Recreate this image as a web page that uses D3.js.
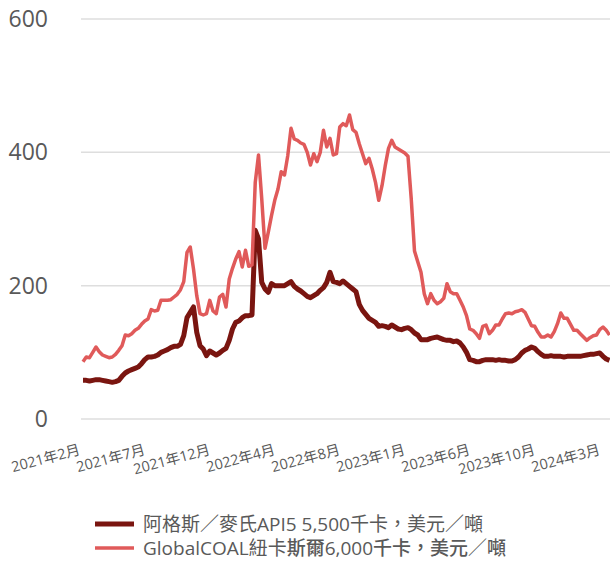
<!DOCTYPE html>
<html lang="zh-Hant">
<head>
<meta charset="utf-8">
<script src="https://cdn.jsdelivr.net/npm/d3@7"></script>
<style>
  html, body { margin: 0; padding: 0; background: #fff; }
  svg { display: block; }
  text { font-family: "Open Sans", "Noto Sans CJK TC", sans-serif; fill: #595959; }
</style>
</head>
<body>
<svg id="chart" width="610" height="565" lang="zh-Hant"></svg>
<script>
// Weekly prices, US$/tonne
const argusApi5 = [
  58, 58, 57, 58, 59, 59, 58, 57, 56, 55, 56, 58, 64, 69, 72, 74, 76, 78, 83, 89,
  93, 93, 94, 96, 100, 102, 104, 107, 109, 109, 112, 125, 152, 160, 168, 130, 110, 105, 95, 102,
  99, 96, 99, 103, 106, 118, 135, 145, 147, 152, 155, 155, 156, 283, 270, 205, 195, 190, 203, 200,
  200, 200, 200, 203, 206, 199, 195, 192, 188, 184, 182, 185, 188, 193, 197, 205, 220, 206, 205, 203,
  207, 203, 199, 195, 191, 172, 163, 157, 151, 148, 145, 139, 140, 139, 137, 141, 138, 135, 134, 136,
  137, 134, 129, 126, 119, 119, 119, 121, 122, 123, 121, 119, 118, 118, 116, 117, 114, 108, 100, 89,
  88, 86, 86, 88, 89, 89, 89, 88, 89, 88, 88, 87, 87, 89, 93, 99, 103, 105, 108, 106,
  101, 97, 94, 94, 95, 94, 94, 94, 93, 94, 94, 94, 94, 94, 95, 96, 97, 97, 98, 99,
  94, 90, 88
];
const globalCoalNewcastle = [
  86, 93, 92, 100, 108, 101, 96, 94, 92, 93, 97, 103, 110, 126, 125, 128, 133, 136, 142, 147,
  150, 164, 162, 163, 178, 178, 178, 179, 183, 187, 194, 206, 250, 258, 225, 185, 158, 156, 158, 178,
  162, 158, 183, 187, 168, 210, 226, 240, 251, 228, 253, 229, 231, 355, 396, 330, 256, 280, 305, 328,
  345, 371, 366, 395, 436, 420, 418, 414, 412, 400, 381, 398, 386, 400, 433, 408, 421, 396, 398, 438,
  443, 440, 456, 434, 430, 413, 398, 383, 391, 375, 355, 328, 350, 380, 406, 418, 408, 405, 402, 399,
  394, 330, 252, 236, 220, 188, 173, 188, 178, 173, 176, 181, 203, 191, 188, 188, 178, 168, 155, 135,
  133, 128, 121, 139, 141, 128, 133, 141, 141, 150, 158, 159, 158, 161, 162, 164, 160, 150, 140, 139,
  130, 123, 123, 126, 123, 131, 143, 159, 151, 151, 142, 133, 133, 128, 123, 118, 122, 125, 126, 134,
  138, 133, 126
];
// Axis labels, one every 20 weeks
const tickLabels = ["2021年2月", "2021年7月", "2021年12月", "2022年4月", "2022年8月",
                    "2023年1月", "2023年6月", "2023年10月", "2024年3月"];
const tickStep = 20;
const yTicks = [0, 200, 400, 600];
// Legend entries as runs: [text, heavier?]
const seriesNames = [
  [["阿格斯／麥氏API5 5,500千卡，美元／噸", false]],
  [["GlobalCOAL紐卡", false], ["斯爾", true], ["6,000", false], ["千卡，美元／噸", true]]
];
const seriesColors = ["#7a1510", "#e05a5a"];
const seriesWidths = [5, 3.5];

const svg = d3.select("#chart");
const n = argusApi5.length;

const x = d3.scaleLinear().domain([0, n - 1]).range([83, 609.5]);
const y = d3.scaleLinear().domain([0, 600]).range([419, 19]);

// Horizontal gridlines
svg.append("g").selectAll("line").data(yTicks).join("line")
  .attr("x1", 81).attr("x2", 610)
  .attr("y1", d => y(d)).attr("y2", d => y(d))
  .attr("stroke", "#dedede").attr("stroke-width", 1.5);

// Y axis labels
const yAxis = d3.axisLeft(y).tickValues(yTicks).tickSize(0).tickPadding(0);
const gy = svg.append("g").attr("transform", "translate(48,0)").call(yAxis);
gy.select(".domain").remove();
gy.selectAll("text").style("font-size", "23px").attr("fill", "#595959")
  .style("font-family", "'Open Sans', sans-serif");

// X axis labels, rotated
const xTickValues = tickLabels.map((_, i) => i * tickStep);
const xAxis = d3.axisBottom(x).tickValues(xTickValues)
  .tickFormat((d, i) => tickLabels[i]).tickSize(0);
const gx = svg.append("g").call(xAxis);
gx.select(".domain").remove();
gx.selectAll(".tick").attr("transform", d => `translate(${x(d) - 2},454)`);
gx.selectAll(".tick text")
  .attr("x", 0).attr("y", 0).attr("dy", 0)
  .attr("text-anchor", "end")
  .attr("transform", "rotate(-15)")
  .attr("fill", "#595959")
  .style("font-size", "14.5px")
  .style("font-family", "'Open Sans', 'Noto Sans CJK TC', sans-serif");

// Series lines
const line = d3.line().x((d, i) => x(i)).y(d => y(d));
[argusApi5, globalCoalNewcastle].forEach((data, k) => {
  svg.append("path").datum(data)
    .attr("fill", "none")
    .attr("stroke", seriesColors[k])
    .attr("stroke-width", seriesWidths[k])
    .attr("stroke-linejoin", "round")
    .attr("d", line);
});

// Legend
const legend = svg.append("g");
seriesNames.forEach((runs, k) => {
  const ly = 524 + k * 24;
  legend.append("line")
    .attr("x1", 95).attr("x2", 134).attr("y1", ly).attr("y2", ly)
    .attr("stroke", seriesColors[k]).attr("stroke-width", seriesWidths[k]);
  const t = legend.append("text")
    .attr("x", 143).attr("y", ly).attr("dy", "0.35em")
    .style("font-size", "19px")
    .style("font-family", "'Open Sans', 'Noto Sans CJK TC', sans-serif")
    .attr("fill", "#595959");
  runs.forEach(([str, heavy]) => {
    t.append("tspan").style("font-weight", heavy ? 500 : 400).text(str);
  });
});
</script>
</body>
</html>
